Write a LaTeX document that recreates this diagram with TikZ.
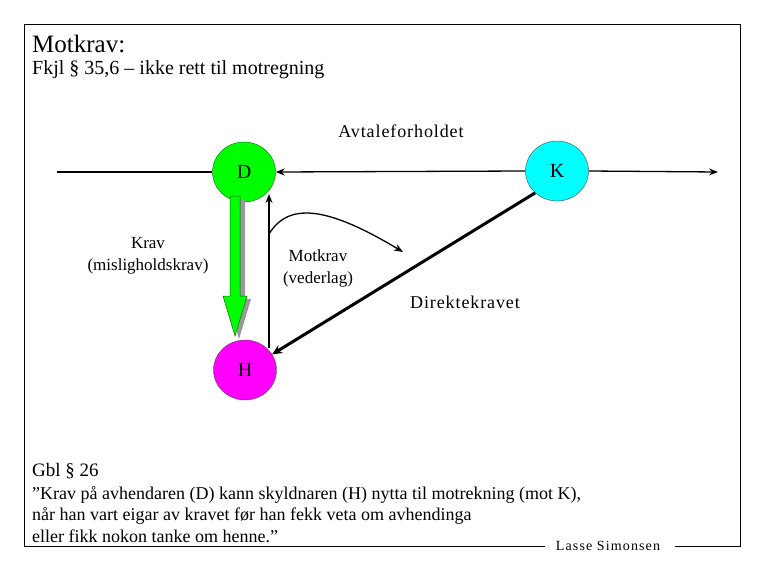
\documentclass[tikz,border=0pt]{standalone}
\usepackage{fontspec}
\setmainfont{Liberation Serif}
\usetikzlibrary{arrows.meta,shapes.geometric}
\begin{document}
\begin{tikzpicture}[x=1pt,y=-1pt,
  party/.style={ellipse,draw=black!70,minimum width=63pt,minimum height=60pt,inner sep=0pt,font=\fontsize{20}{22}\selectfont},
  lbl/.style={font=\fontsize{17}{19}\selectfont,inner sep=0pt,align=center},
  spaced/.style={font=\fontsize{18}{20}\selectfont\addfontfeatures{LetterSpace=5},inner sep=0pt},
  thin/.style={line width=1.3pt}]
\useasboundingbox (0,0) rectangle (765,570);
% frame
\draw[line width=0.8pt] (545,546) -- (24,546) -- (24,24) -- (740,24) -- (740,546) -- (675,546);
\node[anchor=west,inner sep=0pt,font=\fontsize{25}{28}\selectfont] (title) at (32,44) {Motkrav:};
\node[anchor=west,inner sep=0pt,font=\fontsize{20}{23}\selectfont] (sub) at (32,70) {Fkjl § 35,6 – ikke rett til motregning};
\node[spaced] (avt) at (401,131) {Avtaleforholdet};
% nodes
\node[party,fill={rgb,255:red,0;green,255;blue,0},draw={rgb,255:red,0;green,110;blue,0}] (D) at (244,172) {D};
\node[party,fill={rgb,255:red,0;green,255;blue,255}] (K) at (557,171) {K};
\node[party,fill={rgb,255:red,255;green,0;blue,255}] (H) at (245,370) {H};
% horizontal line
\coordinate (L) at (57,172);
\coordinate (R) at (718,172);
\draw[thin] (L) -- (D.west);
\draw[thin,-{Stealth[length=9pt,width=7pt]}] (K.west) -- (D.east);
\draw[thin,-{Stealth[length=9pt,width=7pt]}] (K.east) -- (R);
% green arrow with shadow
\fill[gray!80] (234,199) -- (245,199) -- (245,299) -- (251,299) -- (239,339) -- (227,299) -- (234,299) -- cycle;
\draw[fill={rgb,255:red,0;green,255;blue,0},draw={rgb,255:red,0;green,110;blue,0},line width=0.5pt] (230,196) -- (240,196) -- (240,296) -- (247,296) -- (235,336) -- (223,296) -- (230,296) -- cycle;
\node[lbl] (krav) at (148,256) {Krav\\[3pt](misligholdskrav)};
% vertical arrow H -> D
\coordinate (vb) at (269,348);
\coordinate (vt) at (269,194);
\draw[thin,-{Stealth[length=9pt,width=7pt]}] (vb) -- (vt);
% curved arrow
\coordinate (c0) at (269,234);
\coordinate (c1) at (403,252);
\draw[thin,-{Stealth[length=9pt,width=7pt]}] (c0) .. controls (288,203) and (325,205) .. (c1);
\node[lbl] (mot) at (318,268) {Motkrav\\[3pt](vederlag)};
% direct claim
\draw[line width=3pt,-{Stealth[length=10pt,width=9pt]}] (K.225) -- (H.30);
\node[spaced] (dir) at (465,302) {Direktekravet};
% bottom text
\node[anchor=west,inner sep=0pt,font=\fontsize{19}{22}\selectfont] (gbl) at (32,471) {Gbl § 26};
\node[anchor=north west,inner sep=0pt,align=left,font=\fontsize{18}{21.5}\selectfont] (quote) at (32,486) {”Krav på avhendaren (D) kann skyldnaren (H) nytta til motrekning (mot K),\\når han vart eigar av kravet før han fekk veta om avhendinga\\eller fikk nokon tanke om henne.”};
\node[inner sep=0pt,font=\fontsize{14}{16}\selectfont\addfontfeatures{LetterSpace=8}] (auth) at (608,546) {Lasse Simonsen};
\end{tikzpicture}
\end{document}
